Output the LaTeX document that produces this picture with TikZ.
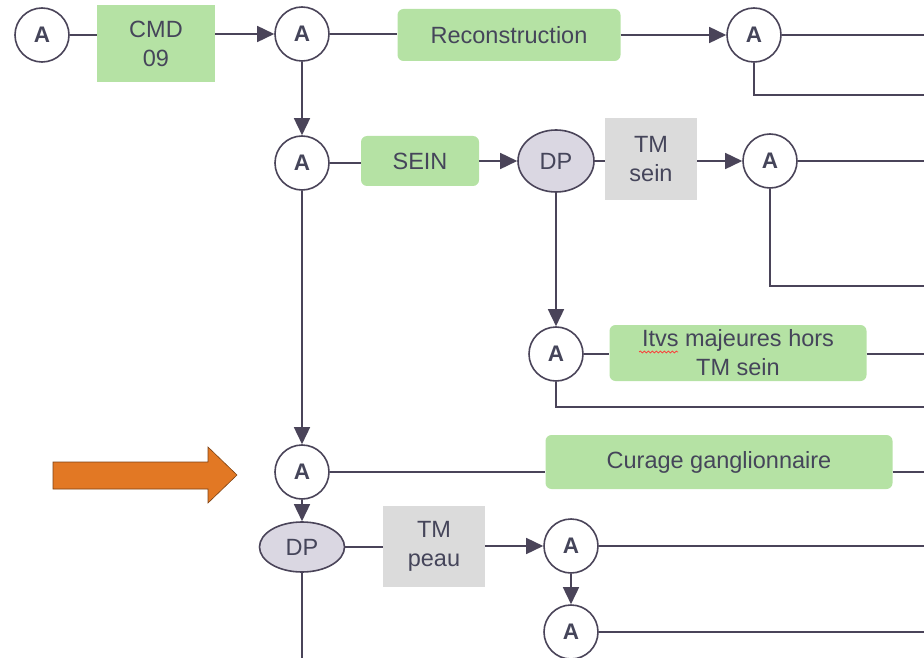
\documentclass[tikz,border=0pt]{standalone}
\usepackage{fontspec}
\setmainfont{Liberation Sans}
\usetikzlibrary{
    arrows.meta,
    shapes,
    decorations.pathmorphing,
    positioning
}
\definecolor{ink}{HTML}{4A4459}
\definecolor{txt}{HTML}{45455A}
\definecolor{boxgreen}{HTML}{B5E2A4}
\definecolor{boxgray}{HTML}{DBDBDB}
\definecolor{dpgray}{HTML}{DAD7E2}
\definecolor{pointer}{HTML}{E27824}

\begin{document}
\begin{tikzpicture}[x=1pt, y=-1pt,
    font=\fontsize{23.5}{29}\selectfont, text=txt,
    anode/.style={circle, draw=ink, line width=1.6pt, fill=white, minimum size=54pt, inner sep=0pt, font=\fontsize{22.5}{24}\selectfont\bfseries},
    dpnode/.style={ellipse, draw=ink, line width=1.6pt, fill=dpgray, inner sep=0pt},
    gbox/.style={fill=boxgreen, align=center, inner sep=0pt},
    tmbox/.style={fill=boxgray, align=center, inner sep=0pt},
    link/.style={draw=ink, line width=1.6pt},
    flow/.style={link, -{Triangle[length=17pt, width=16pt]}}
]
                        \useasboundingbox (0,0) rectangle (924,658);

                        \coordinate (edge) at (924,0);
                        \coordinate (foot) at (0,658);
                        \coordinate (r1) at (924,95);
                        \coordinate (r2) at (924,286);
                        \coordinate (r3) at (924,407);

                        \node[anode] (a0) at (42,35) {A};
                        \node[gbox, minimum width=118pt, minimum height=77pt] (cmd) at (156,44) {CMD\\09};
                        \node[anode] (a1) at (302,34) {A};
                        \node[gbox, rounded corners=6pt, minimum width=223pt, minimum height=52pt] (recon) at (509,35) {Reconstruction};
                        \node[anode] (a2) at (754,35) {A};

                        \node[anode] (a3) at (302,163) {A};
                        \node[gbox, rounded corners=6pt, minimum width=118pt, minimum height=50pt] (sein) at (420,161) {SEIN};
                        \node[dpnode, minimum width=76pt, minimum height=62pt] (dp1) at (556,161) {DP};
                        \node[tmbox, minimum width=92pt, minimum height=82pt] (tmsein) at (651,159) {TM\\sein};
                        \node[anode] (a4) at (770,161) {A};

                        \node[anode] (a5) at (556,354) {A};
                        \node[gbox, rounded corners=6pt, minimum width=257pt, minimum height=56pt] (itvs) at (738,353) {Itvs majeures hors\\TM sein};

                        \node[anode] (a6) at (302,472) {A};
                        \node[gbox, rounded corners=6pt, minimum width=347pt, minimum height=54pt] (curage) at (719,462) {Curage ganglionnaire};
                        \node[dpnode, minimum width=85pt, minimum height=50pt] (dp2) at (302,547) {DP};
                        \node[tmbox, minimum width=102pt, minimum height=81pt] (tmpeau) at (434,546) {TM\\peau};
                        \node[anode] (a7) at (571,546) {A};
                        \node[anode] (a8) at (571,632) {A};

                        % pointer towards the ganglion node
                        \draw[fill=pointer, draw=pointer!55!black, line width=0.6pt]
                        (53,462) -- (208,462) -- (208,447) -- (237,475) -- (208,503) -- (208,489) -- (53,489) -- cycle;

                        % spell-check mark
                        \draw[red!80, line width=0.7pt, decorate, decoration={snake, amplitude=1pt, segment length=4pt}]
                        (639,352) -- (678,352);

                        \draw
                        (a0) edge[link] (a0 -| cmd.west)
                        (cmd.east |- a1) edge[flow] (a1)
                        (a1) edge[link] (a1 -| recon.west)
                        (recon) edge[flow] (a2)
                        (a2) edge[link] (a2 -| edge)
                        (a1) edge[flow] (a3);
                        \draw[link] (a2.south) |- (r1);

                        \draw
                        (a3) edge[link] (a3 -| sein.west)
                        (sein) edge[flow] (dp1)
                        (dp1) edge[link] (dp1 -| tmsein.west)
                        (tmsein.east |- a4) edge[flow] (a4)
                        (a4) edge[link] (a4 -| edge)
                        (dp1) edge[flow] (a5)
                        (a5) edge[link] (a5 -| itvs.west)
                        (a5 -| itvs.east) edge[link] (a5 -| edge)
                        (a3) edge[flow] (a6);
                        \draw[link] (a4.south) |- (r2);
                        \draw[link] (a5.south) |- (r3);

                        \draw
                        (a6) edge[link] (a6 -| curage.west)
                        (a6 -| curage.east) edge[link] (a6 -| edge)
                        (a6) edge[flow] (dp2)
                        (dp2) edge[link] (dp2 -| tmpeau.west)
                        (tmpeau.east |- a7) edge[flow] (a7)
                        (a7) edge[link] (a7 -| edge)
                        (a7) edge[flow] (a8)
                        (a8) edge[link] (a8 -| edge)
                        (dp2) edge[link] (dp2 |- foot);
                    \end{tikzpicture}
\end{document}
